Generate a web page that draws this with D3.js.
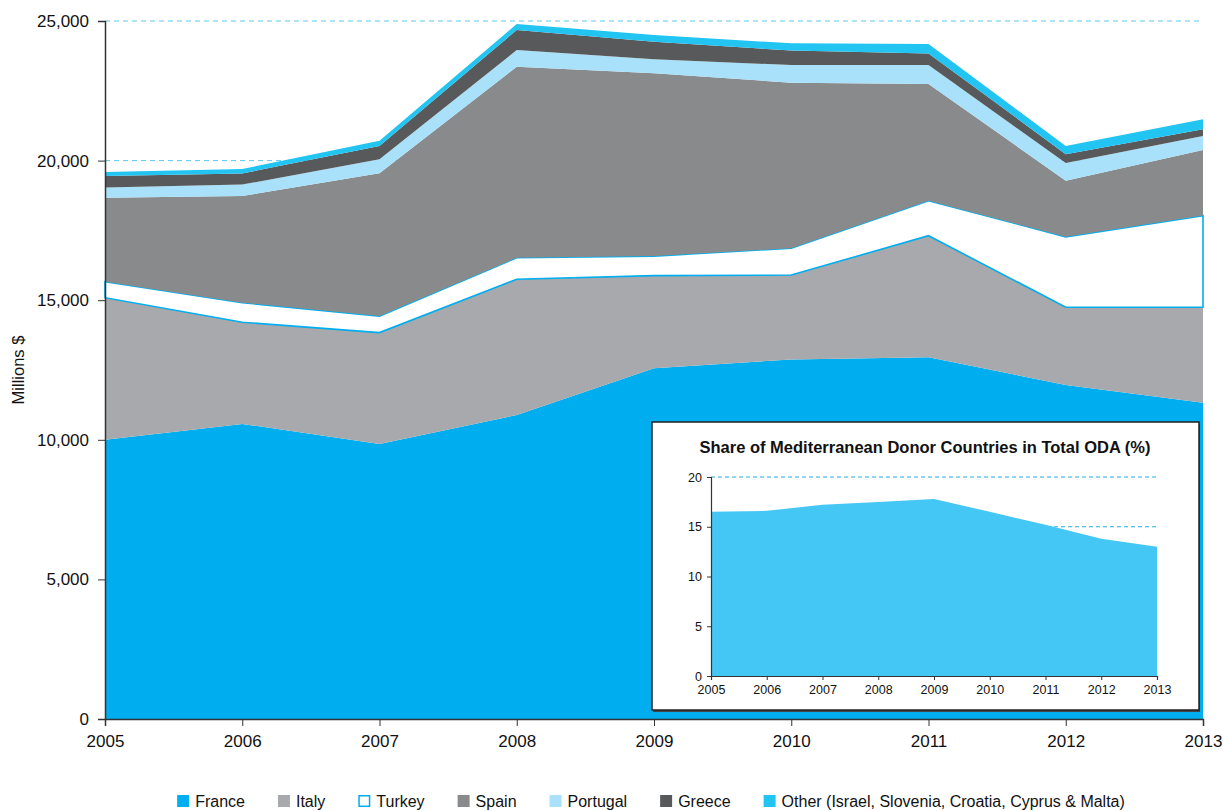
<!doctype html>
<html>
<head>
    <script src="https://d3js.org/d3.v7.min.js"></script>
    <meta charset="utf-8">
    <style>
        body {
            margin: 0;
            background-color: white;
            font-family: "Liberation Sans", Arial, Helvetica, sans-serif;
        }
    </style>
</head>
<body>
<div id="my_dataviz"></div>
<script>

// years along the x axis
var years = [2005, 2006, 2007, 2008, 2009, 2010, 2011, 2012, 2013]

// ODA per donor, millions $
var france   = [10000, 10570, 9850, 10890, 12560, 12880, 12960, 11960, 11330]
var italy    = [5090, 3640, 3990, 4860, 3320, 3020, 4350, 2790, 3420]
var turkey   = [570, 700, 590, 770, 700, 960, 1250, 2520, 3280]
var spain    = [3010, 3820, 5120, 6840, 6550, 5930, 4180, 2010, 2350]
var portugal = [370, 410, 500, 600, 500, 630, 680, 630, 500]
var greece   = [410, 400, 470, 720, 630, 520, 420, 320, 240]
var other    = [140, 160, 190, 210, 240, 260, 340, 290, 360]

var seriesNames = ["France", "Italy", "Turkey", "Spain", "Portugal", "Greece",
                   "Other (Israel, Slovenia, Croatia, Cyprus & Malta)"]
var yTicks = [0, 5000, 10000, 15000, 20000, 25000]

// inset: share of Mediterranean donors in total ODA (%)
var share = [16.5, 16.6, 17.2, 17.5, 17.8, 16.5, 15.2, 13.8, 13.0]
var shareTicks = [0, 5, 10, 15, 20]
var insetTitle = "Share of Mediterranean Donor Countries in Total ODA (%)"

var colors = ["#00aeef", "#a7a9ac", "#ffffff", "#898a8c", "#a8e1f9", "#58595b", "#22c4f1"]

var width = 1223, height = 811

var svg = d3.select("#my_dataviz")
  .append("svg")
    .attr("width", width)
    .attr("height", height)

// build a table for d3.stack
var series = [france, italy, turkey, spain, portugal, greece, other]
var table = years.map(function(y, i) {
  var row = {year: y}
  seriesNames.forEach(function(k, j) { row[k] = series[j][i] })
  return row
})

var x = d3.scaleLinear().domain([2005, 2013]).range([105, 1203])
var y = d3.scaleLinear().domain([0, 25000]).range([719, 21])

// dashed gridlines behind the areas
svg.selectAll(".grid")
  .data([20000, 25000])
  .enter()
  .append("line")
    .attr("x1", x(2005)).attr("x2", x(2013))
    .attr("y1", function(d) { return y(d) })
    .attr("y2", function(d) { return y(d) })
    .attr("stroke", "#5cc8f2")
    .attr("stroke-width", 1)
    .attr("stroke-dasharray", "5,4")

var stacked = d3.stack().keys(seriesNames)(table)

var area = d3.area()
  .x(function(d) { return x(d.data.year) })
  .y0(function(d) { return y(d[0]) })
  .y1(function(d) { return y(d[1]) })

svg.selectAll(".layer")
  .data(stacked)
  .enter()
  .append("path")
    .attr("d", area)
    .attr("fill", function(d, i) { return colors[i] })
    .attr("stroke", function(d, i) { return i == 2 ? "#00aeef" : "none" })
    .attr("stroke-width", 1.6)
    .attr("stroke-linejoin", "miter")

// axes
var yAxis = svg.append("g")
  .attr("transform", "translate(" + x(2005) + ",0)")
  .call(d3.axisLeft(y).tickValues(yTicks).tickFormat(d3.format(",")).tickSize(7).tickPadding(9))
yAxis.select(".domain").attr("stroke", "#333").attr("stroke-width", 1.5)
yAxis.selectAll("line").attr("stroke", "#333")
yAxis.selectAll("text").style("font-size", "17px").attr("fill", "#111")

var xAxis = svg.append("g")
  .attr("transform", "translate(0," + y(0) + ")")
  .call(d3.axisBottom(x).tickValues(years).tickFormat(d3.format("d")).tickSize(7).tickPadding(9))
xAxis.select(".domain").attr("stroke", "#333").attr("stroke-width", 1.5)
xAxis.selectAll("line").attr("stroke", "#333")
xAxis.selectAll("text").style("font-size", "17px").attr("fill", "#111")

svg.append("text")
  .attr("transform", "translate(24,370) rotate(-90)")
  .attr("text-anchor", "middle")
  .style("font-size", "16.5px")
  .attr("fill", "#111")
  .text("Millions $")

// inset box
var box = {x: 652, y: 422, w: 547, h: 288}
svg.append("rect")
  .attr("x", box.x + 1).attr("y", box.y + 2)
  .attr("width", box.w).attr("height", box.h)
  .attr("fill", "#444")
svg.append("rect")
  .attr("x", box.x).attr("y", box.y)
  .attr("width", box.w).attr("height", box.h)
  .attr("fill", "white")
  .attr("stroke", "#231f20")
  .attr("stroke-width", 1.5)

svg.append("text")
  .attr("x", 925).attr("y", 453)
  .attr("text-anchor", "middle")
  .style("font-size", "16.5px")
  .style("font-weight", "bold")
  .attr("fill", "#111")
  .text(insetTitle)

var xi = d3.scaleLinear().domain([2005, 2013]).range([711, 1157])
var yi = d3.scaleLinear().domain([0, 20]).range([676, 477])

svg.selectAll(".igrid")
  .data([15, 20])
  .enter()
  .append("line")
    .attr("x1", xi(2005)).attr("x2", xi(2013))
    .attr("y1", function(d) { return yi(d) })
    .attr("y2", function(d) { return yi(d) })
    .attr("stroke", "#29abe2")
    .attr("stroke-dasharray", "4,3")

svg.append("path")
  .datum(share)
  .attr("fill", "#44c7f4")
  .attr("d", d3.area()
    .x(function(d, i) { return xi(years[i]) })
    .y0(yi(0))
    .y1(function(d) { return yi(d) }))

var yiAxis = svg.append("g")
  .attr("transform", "translate(" + xi(2005) + ",0)")
  .call(d3.axisLeft(yi).tickValues(shareTicks).tickSize(4).tickPadding(5))
yiAxis.select(".domain").attr("stroke", "#333").attr("stroke-width", 1.2)
yiAxis.selectAll("line").attr("stroke", "#333")
yiAxis.selectAll("text").style("font-size", "12.5px").attr("fill", "#111")

var xiAxis = svg.append("g")
  .attr("transform", "translate(0," + yi(0) + ")")
  .call(d3.axisBottom(xi).tickValues(years).tickFormat(d3.format("d")).tickSize(4).tickPadding(5))
xiAxis.select(".domain").attr("stroke", "#333").attr("stroke-width", 1.2)
xiAxis.selectAll("line").attr("stroke", "#333")
xiAxis.selectAll("text").style("font-size", "12.5px").attr("fill", "#111")

// legend, laid out left to right and centred
var legend = svg.append("g")
var gap = 33
var cx = 0
seriesNames.forEach(function(name, i) {
  var g = legend.append("g").attr("transform", "translate(" + cx + ",0)")
  g.append("rect")
    .attr("x", i == 2 ? 0.75 : 0).attr("y", i == 2 ? -5.25 : -6)
    .attr("width", i == 2 ? 10.5 : 12).attr("height", i == 2 ? 10.5 : 12)
    .attr("fill", colors[i])
    .attr("stroke", i == 2 ? "#00aeef" : "none")
    .attr("stroke-width", 1.5)
  var t = g.append("text")
    .attr("x", 18).attr("y", 6)
    .style("font-size", "16px")
    .attr("fill", "#111")
    .text(name)
  cx += 18 + t.node().getComputedTextLength() + gap
})
var legendW = cx - gap
legend.attr("transform", "translate(" + (651 - legendW / 2) + ",801)")

</script>
</body>
</html>
